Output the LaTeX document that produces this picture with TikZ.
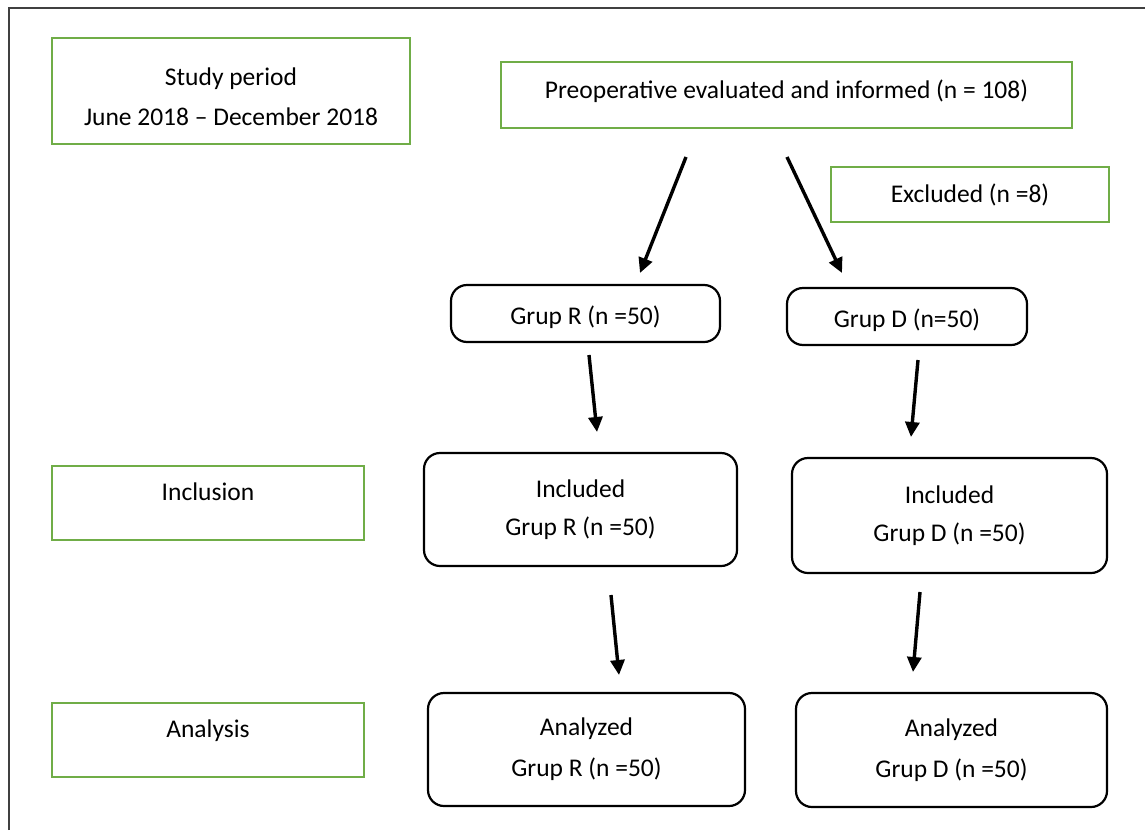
\documentclass[tikz,border=0pt]{standalone}
\usepackage{fontspec}
\setmainfont{Carlito}
\usetikzlibrary{arrows.meta}
\definecolor{boxgreen}{HTML}{70AD47}
\definecolor{framegray}{HTML}{404040}
\tikzset{
    side/.style={draw=boxgreen, line width=2.6pt, rectangle, align=center, inner sep=0pt},
    grp/.style={draw, line width=2.2pt, rectangle, rounded corners=16pt, align=center, inner sep=0pt},
    arr/.style={line width=3.4pt, -{Triangle[length=15pt, width=14pt]}}
}

\begin{document}
\begin{tikzpicture}[x=1pt, y=-1pt, font=\fontsize{25.5}{38}\selectfont]

    \useasboundingbox (0,0) rectangle (1145,830);
    \draw[framegray, line width=2pt] (9,830) -- (9,8) -- (1145,8);

    \node[side, minimum width=358pt, minimum height=106pt, font=\fontsize{25.5}{40}\selectfont] (period) at (231,91) {\rule{0pt}{29pt}Study period\\June 2018 -- December 2018};
    \node[side, minimum width=571pt, minimum height=66pt, text height=18pt, text depth=12pt] (preop) at (786.5,95) {Preoperative evaluated and informed (n = 108)};
    \node[side, minimum width=278pt, minimum height=55pt] (excl) at (970,194.5) {Excluded (n =8)};
    \node[side, minimum width=312pt, minimum height=74pt, text height=18pt, text depth=24pt] (incl) at (208,503) {Inclusion};
    \node[side, minimum width=312pt, minimum height=74pt, text height=18pt, text depth=24pt] (anal) at (208,740) {Analysis};

    \node[grp, minimum width=269pt, minimum height=57pt, text height=26pt, text depth=5pt] (grpR) at (585.5,313.5) {Grup R (n =50)};
    \node[grp, minimum width=240pt, minimum height=57pt, text height=26pt, text depth=5pt] (grpD) at (907,316.5) {Grup D (n=50)};
    \node[grp, minimum width=313pt, minimum height=113pt] (incR) at (580.5,509.5) {Included\\Grup R (n =50)};
    \node[grp, minimum width=315pt, minimum height=115pt] (incD) at (949.5,515.5) {Included\\Grup D (n =50)};
    \node[grp, minimum width=317pt, minimum height=113pt, font=\fontsize{25.5}{41}\selectfont] (anaR) at (586.5,749.5) {Analyzed\\Grup R (n =50)};
    \node[grp, minimum width=311pt, minimum height=114pt, font=\fontsize{25.5}{41}\selectfont] (anaD) at (951.5,750) {Analyzed\\Grup D (n =50)};

    % arrow ends, the arrows float between the boxes
    \coordinate (splitL) at (686,157);
    \coordinate (splitR) at (787,157);
    \coordinate (toR) at (640,273);
    \coordinate (toD) at (842,273);
    \coordinate (fromR) at (589,355);
    \coordinate (fromD) at (918,360);
    \coordinate (inR) at (597,432);
    \coordinate (inD) at (911,437);
    \coordinate (keepR) at (611,595);
    \coordinate (keepD) at (920,592);
    \coordinate (outR) at (619,675);
    \coordinate (outD) at (913,672);

    \draw[arr] (splitL) -- (toR);
    \draw[arr] (splitR) -- (toD);
    \draw[arr] (fromR) -- (inR);
    \draw[arr] (fromD) -- (inD);
    \draw[arr] (keepR) -- (outR);
    \draw[arr] (keepD) -- (outD);
\end{tikzpicture}
\end{document}
